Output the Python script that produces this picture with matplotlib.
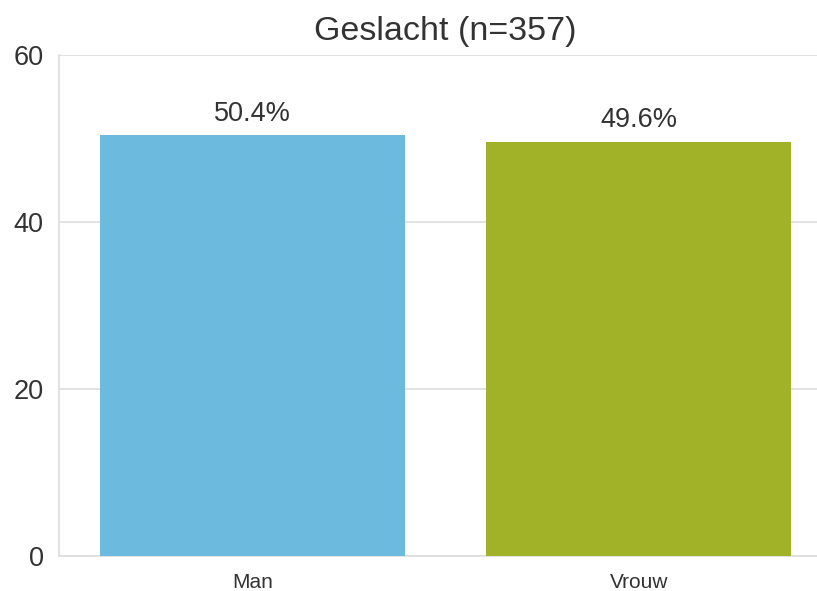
import matplotlib.pyplot as plt

categories = ['Man', 'Vrouw']
percentages = [50.4, 49.6]
colors = ['#6cbbdf', '#a2b228']
yticks = [0, 20, 40, 60]

plt.rcParams['font.family'] = ['Liberation Sans', 'DejaVu Sans']

fig = plt.figure(figsize=(8.17, 5.91), dpi=100)
ax = fig.add_axes([59 / 817, 35 / 591, 773 / 817, 501 / 591])

x = range(len(categories))
bars = ax.bar(x, percentages, width=0.79, color=colors, zorder=3)

for b, p in zip(bars, percentages):
    ax.text(b.get_x() + b.get_width() / 2, p + 1.0, f'{p:.1f}%',
            ha='center', va='bottom', fontsize=19.5, color='#333333')

ax.set_xlim(-0.5, 1.5)
ax.set_ylim(0, 60)
ax.set_yticks(yticks)
ax.set_xticks(list(x))
ax.set_xticklabels(categories, fontsize=15, color='#333333')
ax.tick_params(axis='y', labelsize=19.5, labelcolor='#333333', length=0, pad=11)
ax.tick_params(axis='x', length=0, pad=12)
ax.grid(axis='y', color='#dddddd', linewidth=1.2, zorder=0)
ax.grid(axis='x', visible=False)
for s in ['top', 'right']:
    ax.spines[s].set_visible(False)
for s in ['left', 'bottom']:
    ax.spines[s].set_color('#dddddd')
    ax.spines[s].set_linewidth(1.2)

ax.set_title('Geslacht (n=357)', fontsize=24.5, color='#333333', pad=11)

fig.savefig('out.png', dpi=100)
